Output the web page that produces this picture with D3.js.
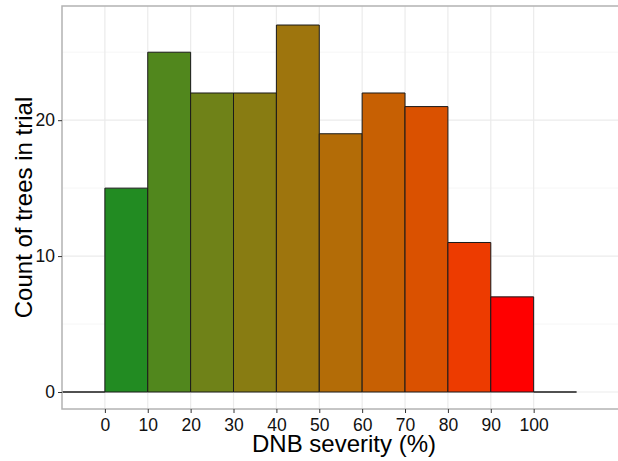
<!DOCTYPE html>
<html>
<head>
<meta charset="utf-8">
<script src="https://cdn.jsdelivr.net/npm/d3@7"></script>
<style>
  body { margin: 0; background: #fff; }
  text { font-family: "Liberation Sans", Arial, sans-serif; }
</style>
</head>
<body>
<div id="chart"></div>
<script>
// histogram bins (lower edge) and counts, incl. empty edge bins
var binStart = [-10, 0, 10, 20, 30, 40, 50, 60, 70, 80, 90, 100];
var counts   = [0, 15, 25, 22, 22, 27, 19, 22, 21, 11, 7, 0];
var binWidth = 10;
var xTicks = [0, 10, 20, 30, 40, 50, 60, 70, 80, 90, 100];
var yTicks = [0, 10, 20];
var yMinor = [5, 15, 25];

var W = 618, H = 461;
var margin = {top: 6, right: -10, bottom: 52, left: 62};
var width = W - margin.left - margin.right,
    height = H - margin.top - margin.bottom;

var svg = d3.select("#chart").append("svg")
    .attr("width", W)
    .attr("height", H);

var g = svg.append("g")
    .attr("transform", "translate(" + margin.left + "," + margin.top + ")");

var x = d3.scaleLinear().domain([-10, 122]).range([0, width]);
var y = d3.scaleLinear().domain([-1.25, 28.4]).range([height, 0]);

var fill = d3.scaleLinear()
    .domain([5, 95])
    .range(["forestgreen", "red"])
    .interpolate(d3.interpolateLab);

var bins = binStart.map(function(b, i){
    return {x0: b, x1: b + binWidth, count: counts[i]};
});

// grid
g.selectAll(".minor").data(yMinor).enter().append("line")
    .attr("x1", 0).attr("x2", width)
    .attr("y1", function(d){ return y(d); }).attr("y2", function(d){ return y(d); })
    .attr("stroke", "#f4f4f4").attr("stroke-width", 0.8);
g.selectAll(".hgrid").data(yTicks).enter().append("line")
    .attr("x1", 0).attr("x2", width)
    .attr("y1", function(d){ return y(d); }).attr("y2", function(d){ return y(d); })
    .attr("stroke", "#ebebeb").attr("stroke-width", 1.2);
g.selectAll(".vgrid").data(xTicks).enter().append("line")
    .attr("y1", 0).attr("y2", height)
    .attr("x1", function(d){ return x(d); }).attr("x2", function(d){ return x(d); })
    .attr("stroke", "#ebebeb").attr("stroke-width", 1.2);

// bars (as paths so empty bins still leave their outline on the baseline)
g.selectAll(".bar").data(bins).enter().append("path")
    .attr("d", function(d){
        var x0 = x(d.x0), x1 = x(d.x1), y0 = y(0), y1 = y(d.count);
        return "M" + x0 + "," + y0 + "V" + y1 + "H" + x1 + "V" + y0 + "Z";
    })
    .attr("fill", function(d){ return d.count > 0 ? fill(d.x0 + binWidth / 2) : "none"; })
    .attr("stroke", "#1a1a1a")
    .attr("stroke-width", 1);

// panel border
g.append("rect")
    .attr("x", 0).attr("y", 0)
    .attr("width", width).attr("height", height)
    .attr("fill", "none")
    .attr("stroke", "#b3b3b3")
    .attr("stroke-width", 1.5);

// axes
var xAxis = g.append("g")
    .attr("transform", "translate(0," + height + ")")
    .call(d3.axisBottom(x).tickValues(xTicks).tickSizeOuter(0).tickSize(4).tickPadding(6));
var yAxis = g.append("g")
    .call(d3.axisLeft(y).tickValues(yTicks).tickSizeOuter(0).tickSize(4).tickPadding(3));

[xAxis, yAxis].forEach(function(a){
    a.select(".domain").remove();
    a.selectAll(".tick line").attr("stroke", "#333333").attr("stroke-width", 1);
    a.selectAll(".tick text")
        .attr("fill", "#111")
        .style("font-size", "17.5px");
});

// titles
svg.append("text")
    .attr("x", 344)
    .attr("y", 452)
    .style("text-anchor", "middle")
    .style("font-size", "24px")
    .attr("fill", "#000")
    .text("DNB severity (%)");

svg.append("text")
    .attr("transform", "translate(32," + (margin.top + height / 2) + ") rotate(-90)")
    .style("text-anchor", "middle")
    .style("font-size", "24px")
    .attr("fill", "#000")
    .text("Count of trees in trial");
</script>
</body>
</html>
